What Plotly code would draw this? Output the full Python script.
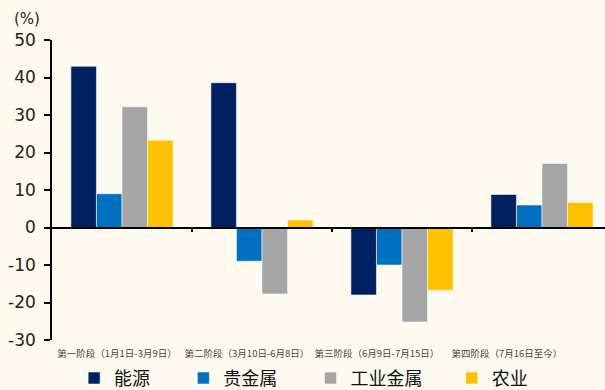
import plotly.graph_objects as go

stages = ["第一阶段（1月1日-3月9日）", "第二阶段（3月10日-6月8日）",
          "第三阶段（6月9日-7月15日）", "第四阶段（7月16日至今）"]
series_names = ["能源", "贵金属", "工业金属", "农业"]
energy = [43.0, 38.6, -18.0, 8.8]
precious = [9.0, -9.0, -10.0, 6.0]
industrial = [32.2, -17.7, -25.2, 17.1]
agri = [23.3, 2.0, -16.7, 6.7]
colors = ["#002060", "#0070C0", "#A5A5A5", "#FFC000"]
y_ticks = [-30, -20, -10, 0, 10, 20, 30, 40, 50]
y_ticktext = ["-30", "-20", "-10", "0", "10", "20", "30", "40", "50"]
boundaries = [0.5, 1.5, 2.5]

bg = "#FEFAF0"
fig = go.Figure()
pad = ["\u00a0" * 7, "\u00a0" * 7, "\u00a0" * 6, ""]
for name, vals, c, p in zip(series_names, [energy, precious, industrial, agri], colors, pad):
    fig.add_trace(go.Bar(x=stages, y=vals, name=name + p,
                         marker=dict(color=c, line=dict(color="rgba(255,255,255,0.55)", width=1))))

fig.update_layout(
    width=605, height=390,
    margin=dict(l=52, r=0, t=40, b=50, autoexpand=False),
    paper_bgcolor=bg, plot_bgcolor="rgba(0,0,0,0)",
    barmode="group", bargap=0.27, bargroupgap=0,
    font=dict(family="DejaVu Sans", color="#222"),
    showlegend=True,
    legend=dict(orientation="h", x=0.04, y=0.03, yref="container", yanchor="middle",
                xanchor="left",
                font=dict(family="Noto Sans CJK SC", size=18, color="#111"),
                bgcolor="rgba(0,0,0,0)", itemwidth=30, tracegroupgap=0),
    xaxis=dict(visible=False, range=[-0.5, 3.45], domain=[0, 1]),
    xaxis2=dict(overlaying="x", anchor="free", position=0.375, range=[-0.5, 3.45],
                showline=True, linecolor="#000", linewidth=1.5, ticks="outside", ticklen=4,
                tickcolor="#000", tickwidth=1.5, tickvals=boundaries, showticklabels=False,
                showgrid=False, zeroline=False),
    xaxis3=dict(anchor="y", domain=[0, 0.94], range=[-0.5, 3.5], tickvals=[0, 1, 2, 3],
                ticktext=stages, showline=False, ticks="", showgrid=False, zeroline=False,
                ticklabelstandoff=6, tickangle=0,
                tickfont=dict(family="Noto Sans CJK SC", size=9.5, color="#444")),
    yaxis=dict(range=[-30, 50], tickvals=y_ticks, ticktext=y_ticktext, showline=True,
               linecolor="#000", linewidth=1.5, ticks="outside", ticklen=6, tickwidth=1.5,
               tickcolor="#000", showgrid=False, zeroline=False, ticklabelstandoff=5,
               tickfont=dict(size=17, color="#222")),
    annotations=[dict(text="(%)", xref="paper", yref="paper", x=-0.045, y=1.035,
                      xanchor="center", yanchor="bottom", showarrow=False,
                      font=dict(size=15, color="#222"))],
)
fig.add_trace(go.Scatter(x=[0], y=[0], xaxis="x2", mode="markers", marker=dict(opacity=0),
                         showlegend=False, hoverinfo="skip"))
fig.add_trace(go.Scatter(x=[0], y=[0], xaxis="x3", mode="markers", marker=dict(opacity=0),
                         showlegend=False, hoverinfo="skip"))
fig.write_html("out.html")
